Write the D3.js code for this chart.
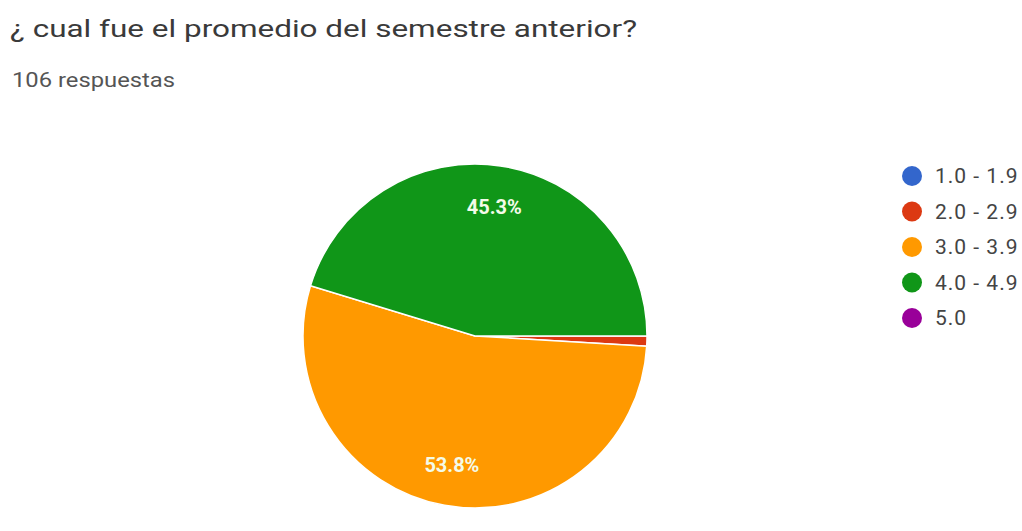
<!DOCTYPE html>
<html>
<head>
<meta charset="utf-8">
<script src="https://cdn.jsdelivr.net/npm/d3@7"></script>
<style>
  html, body { margin: 0; padding: 0; background: #fff; }
  svg { display: block; }
</style>
</head>
<body>
<svg id="chart" width="1022" height="531"></svg>
<script>
// Survey question and answer counts
const title = "¿ cual fue el promedio del semestre anterior?";
const subtitle = "106 respuestas";
const categories = ["1.0 - 1.9", "2.0 - 2.9", "3.0 - 3.9", "4.0 - 4.9", "5.0"];
const counts = [0, 1, 57, 48, 0];
const colors = ["#3366cc", "#dc3912", "#ff9900", "#109618", "#990099"];

const svg = d3.select("#chart");
const total = d3.sum(counts);

svg.append("text")
  .attr("x", 10).attr("y", 37)
  .attr("font-family", "Roboto, sans-serif")
  .attr("font-size", 24)
  .attr("fill", "#3a3a3a")
  .attr("textLength", 627)
  .attr("lengthAdjust", "spacingAndGlyphs")
  .text(title);

svg.append("text")
  .attr("x", 12).attr("y", 87)
  .attr("font-family", "Roboto, sans-serif")
  .attr("font-size", 20)
  .attr("fill", "#555")
  .attr("textLength", 163)
  .attr("lengthAdjust", "spacingAndGlyphs")
  .text(subtitle);

// Pie, starting at 3 o'clock and running clockwise
const cx = 475, cy = 336, r = 172;
const pie = d3.pie().sort(null).value(d => d.value)
  .startAngle(Math.PI / 2).endAngle(Math.PI / 2 + 2 * Math.PI);
const data = categories.map((c, i) => ({ cat: c, value: counts[i], color: colors[i] }));
const arcs = pie(data);
const arc = d3.arc().innerRadius(0).outerRadius(r);
const labelArc = d3.arc().innerRadius(r * 0.76).outerRadius(r * 0.76);

const g = svg.append("g").attr("transform", `translate(${cx},${cy})`);
g.selectAll("path")
  .data(arcs.filter(d => d.data.value > 0))
  .join("path")
  .attr("d", arc)
  .attr("fill", d => d.data.color)
  .attr("stroke", "#fff")
  .attr("stroke-width", 1.5);

g.selectAll("text")
  .data(arcs.filter(d => d.data.value / total > 0.05))
  .join("text")
  .attr("transform", d => `translate(${labelArc.centroid(d)})`)
  .attr("text-anchor", "middle")
  .attr("dy", "0.35em")
  .attr("font-family", "Roboto, sans-serif")
  .attr("font-size", 20)
  .attr("font-weight", "bold")
  .attr("fill", "#f4fbe8")
  .text(d => (d.data.value / total * 100).toFixed(1) + "%");

// Legend
const legendY = d3.scalePoint().domain(categories).range([176, 318]);
const lg = svg.append("g");
const items = lg.selectAll("g").data(data).join("g")
  .attr("transform", d => `translate(912,${legendY(d.cat)})`);
items.append("circle").attr("r", 10).attr("fill", d => d.color);
items.append("text")
  .attr("x", 23).attr("dy", "0.35em")
  .attr("font-family", "Roboto, sans-serif")
  .attr("font-size", 21)
  .attr("letter-spacing", 1)
  .attr("fill", "#444")
  .text(d => d.cat);
</script>
</body>
</html>
